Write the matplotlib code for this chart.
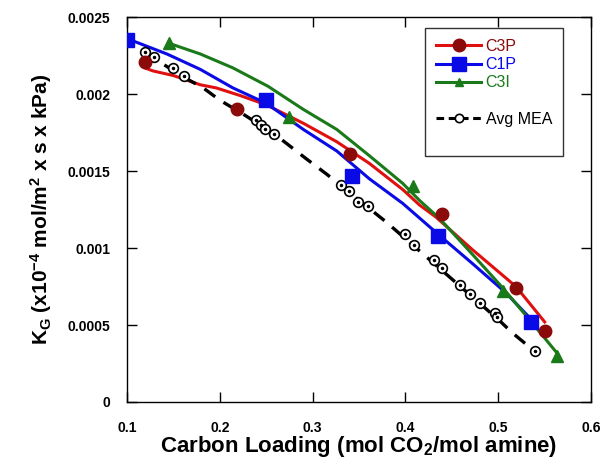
import matplotlib
matplotlib.use("Agg")
import matplotlib.pyplot as plt
from matplotlib.lines import Line2D

plt.rcParams["font.family"] = ["Liberation Sans", "DejaVu Sans"]
plt.rcParams["mathtext.fontset"] = "custom"
plt.rcParams["mathtext.rm"] = "Liberation Sans:bold"
plt.rcParams["mathtext.it"] = "Liberation Sans:bold"
plt.rcParams["mathtext.bf"] = "Liberation Sans:bold"

# measured points
c3p_x = [0.119, 0.219, 0.340, 0.439, 0.519, 0.550]
c3p_y = [0.00221, 0.00190, 0.00161, 0.00122, 0.00074, 0.00046]
c1p_x = [0.100, 0.250, 0.342, 0.435, 0.535]
c1p_y = [0.00235, 0.00196, 0.00147, 0.00108, 0.00052]
c3i_x = [0.145, 0.275, 0.408, 0.505, 0.563]
c3i_y = [0.00233, 0.00185, 0.00140, 0.00072, 0.00030]
mea_x = [0.119, 0.129, 0.149, 0.161, 0.239, 0.244, 0.249, 0.258,
         0.330, 0.339, 0.349, 0.360, 0.400, 0.409, 0.431, 0.439,
         0.459, 0.469, 0.480, 0.496, 0.499, 0.540]
mea_y = [0.00227, 0.00224, 0.00217, 0.00212, 0.00183, 0.00180, 0.00177, 0.00174,
         0.00141, 0.00137, 0.00130, 0.00127, 0.00109, 0.00102, 0.00092, 0.00087,
         0.00076, 0.00070, 0.00064, 0.00058, 0.00055, 0.00033]

# fitted curves
c3p_line_x = [0.119, 0.128, 0.150, 0.179, 0.196, 0.222, 0.250, 0.290, 0.326,
              0.361, 0.397, 0.415, 0.433, 0.472, 0.519, 0.550]
c3p_line_y = [0.00217, 0.00215, 0.00212, 0.00206, 0.00204, 0.00199, 0.00193, 0.00181, 0.00169,
              0.00155, 0.00138, 0.00128, 0.00120, 0.00099, 0.00075, 0.00052]
c1p_line_x = [0.100, 0.143, 0.179, 0.214, 0.250, 0.290, 0.326, 0.361, 0.397,
              0.437, 0.472, 0.508, 0.535]
c1p_line_y = [0.00236, 0.00226, 0.00216, 0.00204, 0.00194, 0.00177, 0.00163, 0.00145, 0.00129,
              0.00108, 0.00090, 0.00071, 0.00054]
c3i_line_x = [0.145, 0.179, 0.214, 0.252, 0.290, 0.326, 0.361, 0.397, 0.415,
              0.437, 0.472, 0.505, 0.537, 0.563]
c3i_line_y = [0.00233, 0.00226, 0.00217, 0.00205, 0.00190, 0.00177, 0.00160, 0.00142, 0.00131,
              0.00119, 0.00096, 0.00074, 0.00051, 0.00032]
mea_line_x = [0.119, 0.161, 0.182, 0.200, 0.225, 0.261, 0.293, 0.315, 0.379,
              0.444, 0.501, 0.515, 0.537]
mea_line_y = [0.00227, 0.00211, 0.00204, 0.00196, 0.00187, 0.00173, 0.00158, 0.00148, 0.00117,
              0.00083, 0.00053, 0.00045, 0.00034]

xticks = [0.1, 0.2, 0.3, 0.4, 0.5, 0.6]
xtick_labels = ["0.1", "0.2", "0.3", "0.4", "0.5", "0.6"]
yticks = [0, 0.0005, 0.001, 0.0015, 0.002, 0.0025]
ytick_labels = ["0", "0.0005", "0.001", "0.0015", "0.002", "0.0025"]

RED = "#e01010"
MAROON = "#8b0a0a"
BLUE = "#0a0ae6"
GREEN = "#1a7a1a"

fig = plt.figure(figsize=(6.05, 4.61), dpi=100)
ax = fig.add_axes([0.21, 0.128, 0.767, 0.835])

ax.plot(c3p_line_x, c3p_line_y, color=RED, lw=2.2, zorder=2)
ax.plot(c1p_line_x, c1p_line_y, color=BLUE, lw=2.2, zorder=2)
ax.plot(c3i_line_x, c3i_line_y, color=GREEN, lw=2.2, zorder=2)
ax.plot(mea_line_x, mea_line_y, color="black", lw=2.4, ls=(0, (4, 3)), zorder=2)

ax.plot(c3p_x, c3p_y, "o", color=MAROON, ms=9, zorder=4)
ax.plot(c1p_x, c1p_y, "s", color=BLUE, ms=10, zorder=4)
ax.plot(c3i_x, c3i_y, "^", color=GREEN, ms=8, zorder=4)
ax.plot(mea_x, mea_y, "o", mfc="white", mec="black", mew=1.2, ms=7, zorder=3)
ax.plot(mea_x, mea_y, "o", color="black", ms=1.5, zorder=3)

ax.set_xlim(0.1, 0.6)
ax.set_ylim(0, 0.0025)
ax.set_xticks(xticks)
ax.set_xticklabels(xtick_labels, fontsize=10, fontweight="bold")
ax.set_yticks(yticks)
ax.set_yticklabels(ytick_labels, fontsize=10, fontweight="bold")
ax.tick_params(direction="in", length=7, width=1, top=True, right=True)
ax.tick_params(axis="x", pad=14)
ax.tick_params(axis="y", pad=12)
for s in ax.spines.values():
    s.set_linewidth(1)

ax.set_xlabel("Carbon Loading (mol CO$_2$/mol amine)", fontsize=16, fontweight="bold", labelpad=-1)
ax.set_ylabel("K$_\\mathrm{G}$ (x10$^{-4}$ mol/m$^2$ x s x kPa)", fontsize=15, fontweight="bold", labelpad=10)

handles = [
    Line2D([], [], color=RED, lw=2.2, marker="o", mfc=MAROON, mec=MAROON, ms=9),
    Line2D([], [], color=BLUE, lw=2.2, marker="s", ms=10),
    Line2D([], [], color=GREEN, lw=2.2, marker="^", ms=6),
    Line2D([], [], color="none"),
    Line2D([], [], color="black", lw=2.2, ls=(0, (2.5, 1.5)), marker="o",
           mfc="white", mec="black", mew=1.2, ms=6),
    Line2D([], [], color="none"),
]
labels = ["C3P", "C1P", "C3I", " ", "Avg MEA", " "]
leg = ax.legend(handles, labels, loc="upper left", bbox_to_anchor=(0.642, 0.972),
                fontsize=11.5, frameon=True, fancybox=False, edgecolor="black",
                handlelength=2.8, borderpad=0.7, labelspacing=0.2, handletextpad=0.3,
                borderaxespad=0)
leg.get_frame().set_linewidth(1)
for t, c in zip(leg.get_texts(), [MAROON, BLUE, GREEN, "black", "black", "black"]):
    t.set_color(c)

fig.savefig("out.png", dpi=100)
